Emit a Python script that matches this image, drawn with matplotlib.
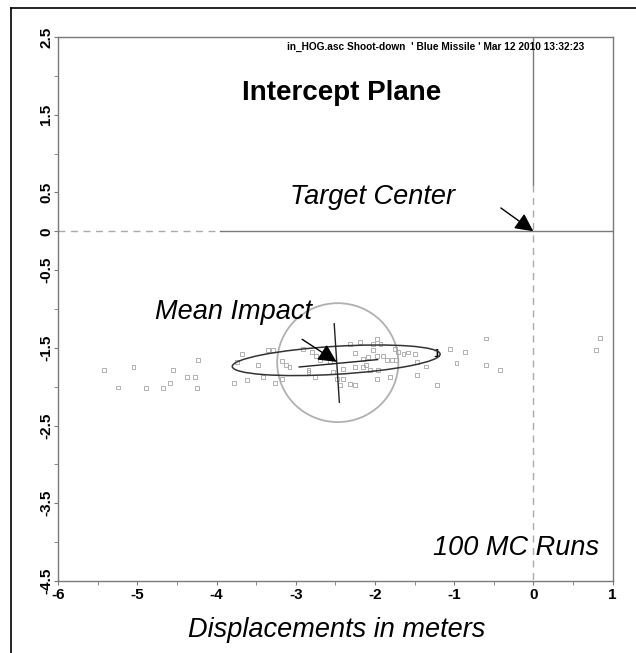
import matplotlib
matplotlib.use("Agg")
import matplotlib.pyplot as plt
from matplotlib.patches import Ellipse, Circle
from matplotlib.lines import Line2D
import numpy as np

plt.rcParams['font.family'] = ['Liberation Sans', 'DejaVu Sans']

# impact points (meters)
imp_x = [-5.42, -5.25, -5.05, -4.55, -4.23, -4.38, -4.27, -4.59, -4.89, -4.68,
         -4.25, -3.78, -3.62, -3.68, -3.74, -3.48, -3.35, -3.29, -3.18, -3.12,
         -3.08, -3.41, -3.26, -3.17, -2.91, -2.80, -2.74, -2.84, -2.84, -2.76,
         -2.70, -2.65, -2.57, -2.53, -2.48, -2.40, -2.44, -2.32, -2.25, -2.32,
         -2.19, -2.25, -2.40, -2.25, -2.15, -2.09, -1.98, -2.15, -2.06, -2.11,
         -2.03, -1.98, -1.93, -2.03, -1.96, -1.98, -1.90, -1.85, -1.79, -1.73,
         -1.81, -1.75, -1.71, -1.64, -1.58, -1.50, -1.47, -1.47, -1.35, -1.22,
         -1.05, -0.86, -0.97, -0.60, -0.60, -0.42, 0.84, 0.79]
imp_y = [-1.78, -2.01, -1.75, -1.78, -1.66, -1.88, -1.88, -1.95, -2.02, -2.02,
         -2.02, -1.95, -1.91, -1.58, -1.68, -1.72, -1.53, -1.53, -1.67, -1.72,
         -1.75, -1.88, -1.95, -1.90, -1.51, -1.55, -1.60, -1.79, -1.81, -1.88,
         -1.66, -1.62, -1.68, -1.81, -1.90, -1.90, -1.98, -1.96, -1.98, -1.45,
         -1.42, -1.57, -1.77, -1.75, -1.64, -1.62, -1.61, -1.75, -1.78, -1.72,
         -1.45, -1.39, -1.45, -1.53, -1.79, -1.90, -1.60, -1.66, -1.66, -1.66,
         -1.88, -1.51, -1.55, -1.58, -1.56, -1.58, -1.68, -1.85, -1.74, -1.98,
         -1.51, -1.55, -1.70, -1.38, -1.72, -1.79, -1.37, -1.53]

mean_x, mean_y = -2.47, -1.69
circle_r = 0.765
ell_w, ell_h, ell_ang = 2.63, 0.36, 3.5
# principal axis segments through the mean
axis1 = ([-2.515, -2.45], [-1.19, -2.20])
axis2 = ([-2.957, -1.967], [-1.746, -1.651])

xticks = [-6, -5, -4, -3, -2, -1, 0, 1]
yticks = [2.5, 1.5, 0.5, 0, -0.5, -1.5, -2.5, -3.5, -4.5]
yminor = [2, 1, -1, -2, -3, -4]
xminor = [-5.5, -4.5, -3.5, -2.5, -1.5, -0.5, 0.5]

fig = plt.figure(figsize=(6.36, 6.53), dpi=100)
ax = fig.add_axes([58.3/636, 1-581/653, 554.2/636, 544/653])
ax.set_xlim(-6, 1)
ax.set_ylim(-4.5, 2.5)

gray = '#7a7a7a'
for s in ax.spines.values():
    s.set_color(gray)
    s.set_linewidth(1.0)

# reference lines through the target center
ax.plot([-6, -3.96], [0, 0], color='#aaaaaa', lw=1, ls=(0, (5, 4)))
ax.plot([-3.96, 1], [0, 0], color=gray, lw=1)
ax.plot([0, 0], [2.5, 0.6], color=gray, lw=1)
ax.plot([0, 0], [0.6, -4.5], color='#aaaaaa', lw=1, ls=(0, (5, 4)))

ax.scatter(imp_x, imp_y, marker='s', s=8, facecolors='none',
           edgecolors='#a5a5a5', linewidths=0.6, zorder=3)

ax.add_patch(Circle((mean_x, mean_y), circle_r, fill=False,
                    edgecolor='#b0b0b0', lw=1.3, zorder=2))
ax.add_patch(Ellipse((mean_x - 0.02, mean_y + 0.03), ell_w, ell_h, angle=ell_ang,
                     fill=False, edgecolor='#333333', lw=1.1, zorder=4))
ax.text(-1.23, -1.58, '1', fontsize=8, fontweight='bold', ha='center', va='center')
ax.plot(*axis1, color='#222222', lw=1, zorder=4)
ax.plot(*axis2, color='#222222', lw=1, zorder=4)

ax.annotate('', xy=(0, 0), xytext=(-0.41, 0.30),
            arrowprops=dict(arrowstyle='-|>,head_length=0.5,head_width=0.25',
                            color='black', lw=1,
                            mutation_scale=22, shrinkA=0, shrinkB=0))
ax.annotate('', xy=(-2.485, -1.68), xytext=(-2.92, -1.39),
            arrowprops=dict(arrowstyle='-|>,head_length=0.5,head_width=0.25',
                            color='black', lw=1,
                            mutation_scale=22, shrinkA=0, shrinkB=0), zorder=5)

ax.text(0.64, 2.37, "in_HOG.asc Shoot-down  ' Blue Missile ' Mar 12 2010 13:32:23",
        family=['Liberation Sans Narrow', 'Liberation Sans'], fontsize=7.3,
        fontweight='bold', ha='right', va='center')
ax.text(-2.42, 1.78, 'Intercept Plane', fontsize=20, fontweight='bold',
        ha='center', va='center')
ax.text(-3.07, 0.44, 'Target Center', fontsize=19.5, style='italic',
        ha='left', va='center')
ax.text(-4.78, -1.04, 'Mean Impact', fontsize=19.5, style='italic',
        ha='left', va='center')
ax.text(-1.27, -4.08, '100 MC Runs', fontsize=19.5, style='italic',
        ha='left', va='center')
fig.text(337/636, 1-630/653, 'Displacements in meters', fontsize=19.5,
         style='italic', ha='center', va='center')

ax.set_xticks(xticks)
ax.set_xticklabels([str(v) for v in xticks], fontsize=11, fontweight='bold')
ax.set_xticks(xminor, minor=True)
ax.set_yticks(yticks)
ax.set_yticklabels([('%g' % v) for v in yticks], fontsize=11, fontweight='bold',
                   rotation=90, va='center')
ax.set_yticks(yminor, minor=True)
ax.tick_params(which='both', direction='out', length=3, color=gray, pad=2)
ax.tick_params(axis='y', pad=0.5)

# outer frame of the picture
fig.add_artist(Line2D([11/636, 11/636], [0, 1-8/653], color='black', lw=1.2))
fig.add_artist(Line2D([11/636, 1], [1-8/653, 1-8/653], color='black', lw=1.2))

fig.savefig('out.png', dpi=100)
